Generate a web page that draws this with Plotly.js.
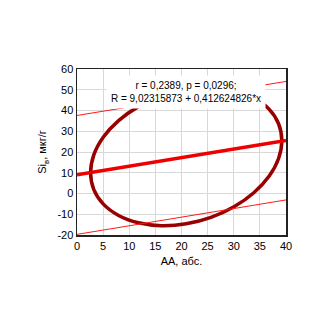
<!DOCTYPE html>
<html><head><meta charset="utf-8">
<script src="https://cdn.plot.ly/plotly-3.0.1.min.js"></script>
<style>html,body{margin:0;padding:0;background:#fff}#chart{width:330px;height:330px}</style>
</head><body><div id="chart"></div>
<script>
// Line x extent
const lineX = [0, 40];
// Regression line R = 9,02315873 + 0,412624826*x (read at ends)
const regY = [9.02, 25.53];
// Confidence / prediction lines
const upperY = [37.6, 54.0];
const lowerY = [-19.7, -3.1];
// Ellipse outline points
const ellX = [39.2, 38.58, 36.75, 33.84, 30.05, 25.64, 20.9, 16.16, 11.75, 7.96, 5.05, 3.22, 2.6, 3.22, 5.05, 7.96, 11.75, 16.16, 20.9, 25.64, 30.05, 33.84, 36.75, 38.58, 39.2];
const ellY = [25.51, 33.62, 40.64, 46.10, 49.63, 50.99, 50.08, 46.97, 41.87, 35.12, 27.20, 18.62, 9.99, 1.88, -5.14, -10.60, -14.13, -15.49, -14.58, -11.47, -6.37, 0.38, 8.30, 16.88, 25.51];
const xTicks = [0, 5, 10, 15, 20, 25, 30, 35, 40];
const yTicks = [-20, -10, 0, 10, 20, 30, 40, 50, 60];
const annText = "r = 0,2389, p = 0,0296;<br>R = 9,02315873 + 0,412624826*x";

const FONT = "Liberation Sans, Arial, sans-serif";

const traces = [
  {x: ellX, y: ellY, mode: 'lines', line: {color: '#990000', width: 3.5, shape: 'spline', smoothing: 1}, hoverinfo: 'skip'},
  {x: lineX, y: upperY, mode: 'lines', line: {color: '#ff1a1a', width: 1}},
  {x: lineX, y: lowerY, mode: 'lines', line: {color: '#ff1a1a', width: 1}},
  {x: lineX, y: regY, mode: 'lines', line: {color: '#ee0000', width: 3.5}}
];

const axisCommon = {
  showgrid: true, gridcolor: '#d8d8d8', gridwidth: 1,
  showline: true, linecolor: '#222', linewidth: 1.5, mirror: true,
  zeroline: false, ticks: '', tickfont: {family: FONT, size: 11, color: '#000'},
  fixedrange: true
};

const layout = {
  width: 330, height: 330,
  margin: {l: 77, r: 44, t: 69, b: 95},
  paper_bgcolor: '#fff', plot_bgcolor: '#fff',
  showlegend: false,
  font: {family: FONT, color: '#000'},
  xaxis: Object.assign({}, axisCommon, {
    range: [0, 40], tickvals: xTicks, ticktext: xTicks.map(String),
    title: {text: 'AA, абс.', font: {family: FONT, size: 11, color: '#000'}, standoff: 6}
  }),
  yaxis: Object.assign({}, axisCommon, {
    range: [-20, 60], tickvals: yTicks, ticktext: yTicks.map(String),
    title: {text: 'Si<sub>в</sub>, мкг/г', font: {family: FONT, size: 11, color: '#000'}, standoff: 8}
  }),
  annotations: [{
    x: 20.8, y: 48.7, xref: 'x', yref: 'y', showarrow: false,
    text: annText, align: 'center', bgcolor: '#fff',
    width: 158, height: 32, borderpad: 0,
    font: {family: FONT, size: 10, color: '#000'}
  }]
};

Plotly.newPlot('chart', traces, layout, {staticPlot: true, displayModeBar: false});
</script></body></html>
